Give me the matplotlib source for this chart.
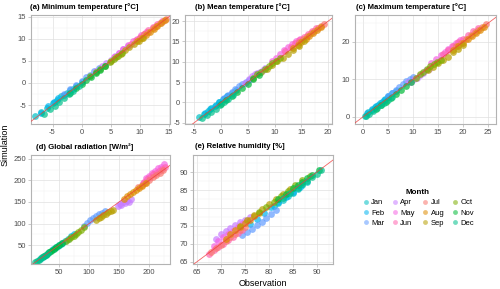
import matplotlib.pyplot as plt
from matplotlib.ticker import AutoMinorLocator
from matplotlib.lines import Line2D

plt.rcParams["font.family"] = ["Liberation Sans", "DejaVu Sans"]
plt.rcParams["axes.unicode_minus"] = False

months = ["Jan", "Feb", "Mar", "Apr", "May", "Jun",
          "Jul", "Aug", "Sep", "Oct", "Nov", "Dec"]
colors = ["#00BFC4", "#00B4F0", "#619CFF", "#C77CFF", "#F564E3", "#FF64B0",
          "#F8766D", "#DE8C00", "#B79F00", "#7CAE00", "#00BA38", "#00C08B"]

# (a) minimum temperature, one list per month
tmin_obs = [
    [-8.0, -7.0, -6.0, -5.0, -4.2, -3.5, -2.5, -1.5],
    [-7.0, -5.8, -4.8, -4.0, -3.0, -2.0, -1.0, 0.0],
    [-3.0, -2.0, -1.0, 0.0, 0.8, 1.5, 2.2, 3.0],
    [2.5, 3.5, 4.2, 5.0, 5.8, 6.5, 7.2, 8.0],
    [5.5, 6.5, 7.2, 8.0, 8.8, 9.5, 10.2, 11.0],
    [8.5, 9.3, 10.0, 10.8, 11.5, 12.2, 13.0, 13.8],
    [10.0, 10.8, 11.5, 12.2, 12.8, 13.5, 14.0, 14.5],
    [9.5, 10.3, 11.0, 11.7, 12.4, 13.0, 13.6, 14.3],
    [5.0, 6.0, 6.8, 7.5, 8.2, 9.0, 9.8, 10.5],
    [1.5, 2.5, 3.2, 4.0, 4.8, 5.5, 6.2, 7.0],
    [-2.0, -1.0, 0.0, 0.8, 1.6, 2.4, 3.2, 4.0],
    [-6.5, -5.5, -4.6, -3.8, -3.0, -2.2, -1.4, -0.5],
]
tmin_sim = [
    [-7.6, -6.5, -5.6, -4.5, -3.9, -3.0, -2.2, -1.3],
    [-6.9, -5.2, -4.4, -3.4, -2.7, -1.6, -0.6, 0.3],
    [-2.5, -1.4, -0.4, 0.5, 1.3, 1.9, 2.6, 3.3],
    [2.8, 3.8, 4.6, 5.3, 6.1, 6.9, 7.7, 8.4],
    [5.9, 6.9, 7.8, 8.6, 9.4, 10.0, 10.8, 11.5],
    [8.8, 9.7, 10.5, 11.2, 11.9, 12.6, 13.3, 14.0],
    [10.2, 11.0, 11.6, 12.4, 12.9, 13.6, 14.1, 14.6],
    [9.4, 10.2, 10.9, 11.6, 12.3, 12.9, 13.5, 14.3],
    [4.9, 5.9, 6.6, 7.4, 8.1, 8.8, 9.6, 10.3],
    [1.5, 2.4, 3.1, 3.9, 4.7, 5.4, 6.1, 6.9],
    [-2.2, -1.2, -0.2, 0.6, 1.4, 2.2, 3.0, 3.9],
    [-7.0, -6.0, -5.2, -4.3, -3.5, -2.6, -1.8, -0.8],
]

# (b) mean temperature
tmean_obs = [
    [-4.0, -3.2, -2.5, -1.8, -1.0, -0.3, 0.5, 1.2],
    [-3.0, -2.0, -1.2, -0.4, 0.4, 1.2, 2.0, 2.8],
    [0.5, 1.3, 2.0, 2.7, 3.4, 4.0, 4.6, 5.2],
    [4.5, 5.2, 5.8, 6.3, 6.8, 7.3, 7.8, 8.3],
    [9.5, 10.3, 11.0, 11.8, 12.5, 13.3, 14.0, 14.8],
    [12.0, 13.0, 13.8, 14.6, 15.4, 16.2, 17.0, 17.8],
    [14.5, 15.3, 16.0, 16.7, 17.3, 18.0, 18.6, 19.2],
    [13.5, 14.3, 15.0, 15.8, 16.5, 17.2, 17.9, 18.6],
    [8.5, 9.5, 10.5, 11.5, 12.5, 13.5, 14.5, 15.5],
    [6.0, 6.8, 7.5, 8.2, 8.9, 9.6, 10.3, 11.0],
    [0.0, 1.0, 2.0, 3.0, 4.0, 5.0, 6.0, 7.0],
    [-3.5, -2.6, -1.8, -1.0, -0.2, 0.6, 1.4, 2.2],
]
tmean_sim = [
    [-3.6, -2.9, -2.1, -1.3, -0.6, 0.1, 0.9, 1.6],
    [-2.7, -1.6, -0.8, 0.0, 0.9, 1.6, 2.4, 3.1],
    [1.0, 1.9, 2.6, 3.3, 4.0, 4.6, 5.1, 5.6],
    [4.9, 5.7, 6.4, 6.9, 7.3, 7.6, 8.0, 8.4],
    [10.1, 11.0, 11.8, 12.8, 13.6, 14.4, 15.1, 15.7],
    [12.6, 13.7, 14.5, 15.4, 16.1, 16.8, 17.5, 18.2],
    [14.8, 15.6, 16.3, 17.0, 17.6, 18.2, 18.8, 19.4],
    [13.3, 14.1, 14.8, 15.6, 16.3, 17.0, 17.7, 18.5],
    [8.2, 9.2, 10.1, 11.0, 11.9, 12.9, 13.9, 15.0],
    [6.0, 6.9, 7.6, 8.3, 9.0, 9.6, 10.2, 10.9],
    [-0.3, 0.7, 1.6, 2.6, 3.6, 4.6, 5.7, 6.8],
    [-3.9, -3.0, -2.3, -1.5, -0.7, 0.1, 0.9, 1.8],
]

# (c) maximum temperature
tmax_obs = [
    [0.3, 1.0, 1.7, 2.4, 3.0, 3.7, 4.4, 5.0],
    [0.8, 1.8, 2.6, 3.4, 4.2, 5.0, 5.8, 6.5],
    [5.0, 5.8, 6.5, 7.2, 7.9, 8.6, 9.3, 10.0],
    [9.0, 9.6, 10.2, 10.8, 11.4, 12.0, 12.6, 13.2],
    [13.5, 14.5, 15.5, 16.3, 17.0, 17.8, 18.5, 19.3],
    [16.0, 17.0, 18.0, 19.0, 20.0, 21.0, 22.0, 23.0],
    [18.5, 19.5, 20.5, 21.5, 22.3, 23.0, 23.8, 24.5],
    [18.0, 19.0, 20.0, 21.0, 21.8, 22.6, 23.4, 24.2],
    [13.0, 14.0, 15.0, 16.0, 17.0, 18.0, 19.0, 20.0],
    [10.5, 11.3, 12.0, 12.7, 13.4, 14.1, 14.8, 15.5],
    [2.5, 3.5, 4.5, 5.5, 6.5, 7.5, 8.5, 9.5],
    [0.5, 1.2, 2.0, 2.8, 3.5, 4.2, 5.0, 5.8],
]
tmax_sim = [
    [0.3, 1.2, 1.9, 2.7, 3.3, 4.0, 4.7, 5.2],
    [1.0, 2.1, 3.0, 3.8, 4.6, 5.5, 6.3, 7.0],
    [5.5, 6.5, 7.3, 8.1, 8.8, 9.5, 10.1, 10.6],
    [9.3, 9.2, 10.0, 10.3, 11.2, 11.6, 12.4, 12.9],
    [14.3, 15.5, 16.6, 17.4, 18.2, 19.0, 19.7, 20.4],
    [16.7, 17.8, 18.9, 19.9, 20.9, 21.8, 22.8, 23.6],
    [18.8, 19.8, 20.8, 21.8, 22.6, 23.3, 24.0, 24.7],
    [17.8, 18.8, 19.7, 20.7, 21.5, 22.3, 23.2, 24.0],
    [12.6, 13.4, 14.3, 15.2, 16.1, 17.2, 18.2, 19.3],
    [10.5, 11.4, 12.1, 12.8, 13.5, 14.1, 14.7, 15.3],
    [2.2, 3.1, 4.1, 5.1, 6.1, 7.1, 8.2, 9.2],
    [0.2, 0.9, 1.6, 2.4, 3.1, 3.8, 4.6, 5.4],
]

# (d) global radiation
rad_obs = [
    [18, 23, 28, 33, 38, 43, 48, 53],
    [40, 45, 50, 55, 60, 65, 70, 75],
    [92, 97, 102, 107, 112, 117, 122, 127],
    [148, 151, 154, 157, 160, 163, 166, 170],
    [190, 195, 200, 205, 210, 215, 220, 225],
    [192, 197, 202, 207, 212, 217, 222, 226],
    [182, 188, 194, 200, 206, 212, 218, 224],
    [158, 163, 168, 173, 178, 183, 189, 195],
    [112, 116, 120, 124, 128, 132, 136, 140],
    [62, 66, 70, 74, 78, 82, 86, 92],
    [25, 29, 33, 37, 41, 45, 49, 55],
    [10, 13, 16, 19, 22, 25, 28, 32],
]
rad_sim = [
    [18, 23, 28, 33, 38, 43, 48, 53],
    [40, 45, 50, 55, 60, 65, 70, 76],
    [94, 101, 107, 112, 117, 121, 125, 128],
    [141, 146, 143, 150, 147, 153, 150, 156],
    [195, 206, 210, 217, 222, 228, 232, 238],
    [196, 203, 207, 214, 217, 223, 226, 231],
    [184, 190, 195, 202, 207, 213, 218, 224],
    [158, 163, 168, 172, 177, 182, 188, 194],
    [108, 112, 116, 119, 123, 126, 129, 132],
    [60, 64, 68, 72, 76, 80, 85, 91],
    [25, 29, 33, 37, 41, 45, 49, 55],
    [10, 13, 16, 19, 22, 25, 28, 32],
]

# (e) relative humidity
rh_obs = [
    [81, 82, 83, 84, 85, 86, 87, 88],
    [76, 77.5, 79, 80.5, 82, 83.5, 85, 86.5],
    [74.5, 75.5, 76.5, 77.5, 78.5, 79.5, 80.5, 81.5],
    [69, 70, 71, 72, 73, 74, 75, 76],
    [68.5, 69.5, 70.5, 71.5, 72.5, 73.5, 74.5, 75.5],
    [67.5, 68.5, 69.5, 70.5, 71.5, 72.5, 73.5, 74.5],
    [68, 69, 70, 71, 72, 73, 74, 75],
    [71, 72, 73, 74, 75, 76, 77, 78],
    [74, 75.5, 77, 78.5, 80, 81.5, 83, 84.5],
    [78, 79.5, 81, 82.5, 84, 85.5, 87, 88.5],
    [82, 83.5, 85, 86, 87, 88, 89, 90.5],
    [83, 84.5, 86, 87, 88, 89, 90, 91],
]
rh_sim = [
    [80.5, 81.3, 82.3, 83.3, 84.2, 85.3, 86.4, 87.4],
    [75.5, 77, 78.6, 80.2, 81.6, 83, 84.5, 86],
    [72.5, 73.3, 74.3, 75.3, 76.2, 77.3, 78.3, 79.5],
    [71.5, 72.8, 73.6, 74.5, 75.3, 76.0, 76.8, 77.5],
    [69.5, 70.8, 71.8, 72.8, 73.7, 74.6, 75.6, 76.4],
    [67.3, 68.2, 69.2, 70.0, 71.0, 72.0, 73.0, 74.0],
    [67.8, 68.8, 69.8, 70.8, 71.8, 72.8, 73.8, 74.8],
    [71.5, 72.7, 73.8, 74.8, 75.8, 76.8, 77.8, 78.6],
    [75, 76.6, 78.2, 79.7, 81.2, 82.6, 84.0, 85.3],
    [78.8, 80.3, 81.8, 83.3, 84.8, 86.3, 87.7, 89.0],
    [82.5, 84, 85.5, 86.5, 87.4, 88.3, 89.2, 90.6],
    [82.8, 84.2, 85.6, 86.6, 87.6, 88.6, 89.5, 90.6],
]

W, H = 500, 289
fig = plt.figure(figsize=(W / 100, H / 100), dpi=100)


def px_axes(left, top, right, bottom):
    return fig.add_axes([left / W, 1 - bottom / H, (right - left) / W, (bottom - top) / H])


panels = [
    ("(a) Minimum temperature [°C]", tmin_obs, tmin_sim, (31, 15, 170, 124), 30,
     (-8.7, 15.2), (-9.3, 15.4), [-5, 0, 5, 10, 15], [-5, 0, 5, 10, 15]),
    ("(b) Mean temperature [°C]", tmean_obs, tmean_sim, (185, 15, 332, 124), 195,
     (-6.7, 20.7), (-5.3, 21.5), [-5, 0, 5, 10, 15, 20], [-5, 0, 5, 10, 15, 20]),
    ("(c) Maximum temperature [°C]", tmax_obs, tmax_sim, (355, 15, 496, 124), 356,
     (-1.6, 26.6), (-1.9, 27.2), [0, 5, 10, 15, 20, 25], [0, 10, 20]),
    ("(d) Global radiation [W/m²]", rad_obs, rad_sim, (31, 155, 170, 264), 36,
     (3, 235), (6, 259), [50, 100, 150, 200], [50, 100, 150, 200, 250]),
    ("(e) Relative humidity [%]", rh_obs, rh_sim, (193, 155, 333, 264), 195,
     (64.2, 93.4), (64.4, 94.8), [65, 70, 75, 80, 85, 90], [65, 70, 75, 80, 85, 90]),
]

for title, obs, sim, box, tx, xl, yl, xt, yt in panels:
    ax = px_axes(*box)
    for m in range(12):
        ax.scatter(obs[m], sim[m], s=24, color=colors[m], alpha=0.7,
                   linewidths=0, zorder=2)
    ax.axline((0, 0), slope=1, color="#F03B3B", lw=0.6, alpha=0.8, zorder=3)
    ax.set_xlim(*xl)
    ax.set_ylim(*yl)
    ax.set_xticks(xt)
    ax.set_yticks(yt)
    ax.xaxis.set_minor_locator(AutoMinorLocator(2))
    ax.yaxis.set_minor_locator(AutoMinorLocator(2))
    ax.grid(which="major", color="#E0E0E0", lw=0.5, zorder=0)
    ax.grid(which="minor", color="#EFEFEF", lw=0.35, zorder=0)
    ax.set_axisbelow(True)
    ax.tick_params(which="major", length=2, width=0.5, color="#B3B3B3",
                   labelsize=5.5, labelcolor="#4D4D4D", pad=1.5)
    ax.tick_params(which="minor", length=0)
    for sp in ax.spines.values():
        sp.set_color("#B3B3B3")
        sp.set_linewidth(0.8)
    fig.text(tx / W, 1 - (box[1] - 8) / H, title, fontsize=5.6, fontweight="bold",
             ha="left", va="center", color="black")

fig.text(5 / W, 1 - 145 / H, "Simulation", rotation=90, fontsize=6.5,
         ha="center", va="center")
fig.text(263 / W, 1 - 283 / H, "Observation", fontsize=6.5,
         ha="center", va="center")

handles = [Line2D([], [], marker="o", linestyle="", markersize=3.5,
                  markerfacecolor=c, markeredgewidth=0, alpha=0.55) for c in colors]
leg = fig.legend(handles, months, title="Month", ncol=4, loc="center",
                 bbox_to_anchor=(418 / W, 1 - 208 / H), frameon=False,
                 fontsize=5.5, title_fontsize=5.8, handletextpad=0.2,
                 columnspacing=0.9, labelspacing=0.35, handlelength=1.0)
leg.get_title().set_fontweight("bold")

fig.savefig("out.png", dpi=100)
